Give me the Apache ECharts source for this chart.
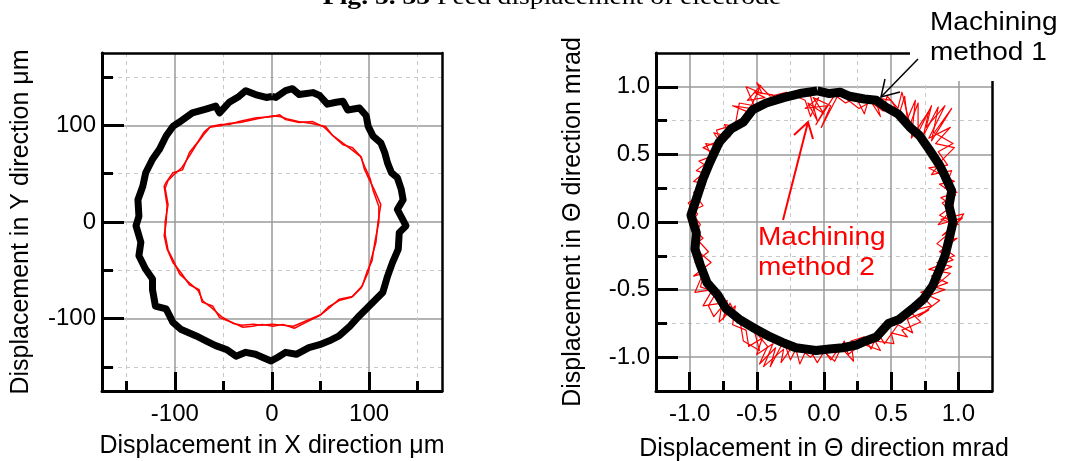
<!DOCTYPE html>
<html><head><meta charset="utf-8">
<script src="https://cdn.jsdelivr.net/npm/echarts@6/dist/echarts.min.js"></script>
<style>html,body{margin:0;padding:0;background:#fff}#c{width:1068px;height:461px}</style>
</head><body><div id="c"></div>
<script>
// ---- tick values ----
const xyMajorTicks = [-100, 0, 100];
const xyMinorTicks = [-150, -50, 50, 150];
const thMajorTicks = [-1.0, -0.5, 0.0, 0.5, 1.0];
const thMinorTicks = [-0.75, -0.25, 0.25, 0.75];

// ---- left panel: X / Y displacement (μm) ----
const xyMethod1 = [[0,130],[4,129],[14,136],[21,138],[28,132],[42,134],[49,131],[57,122],[66,124],[73,125],[78,116],[90,118],[97,110],[99,99],[104,89],[112,82],[116,72],[119,61],[123,51],[129,46],[133,34],[135,23],[129,13],[138,-4],[131,-11],[130,-28],[124,-42],[119,-56],[114,-73],[107,-80],[97,-90],[90,-97],[80,-108],[69,-118],[59,-123],[49,-127],[38,-130],[25,-137],[14,-135],[6,-140],[-1,-144],[-10,-140],[-17,-137],[-27,-135],[-37,-139],[-47,-132],[-58,-128],[-68,-123],[-78,-118],[-94,-111],[-102,-104],[-109,-90],[-120,-87],[-123,-70],[-123,-59],[-130,-49],[-137,-35],[-135,-21],[-140,-4],[-137,6],[-138,23],[-133,37],[-130,51],[-123,65],[-116,75],[-109,89],[-102,99],[-96,103],[-82,113],[-68,117],[-58,120],[-54,113],[-44,124],[-34,130],[-27,136],[-17,132],[-6,129],[0,130]];
const xyMethod2a = [[0,109],[8,111],[14,106],[28,103],[42,104],[54,98],[63,89],[73,80],[83,77],[92,67],[95,55],[100,44],[105,34],[112,18],[109,-1],[107,-21],[102,-39],[99,-52],[92,-68],[83,-77],[69,-80],[59,-89],[49,-97],[35,-104],[23,-110],[11,-106],[1,-108],[-10,-106],[-20,-108],[-30,-109],[-41,-104],[-54,-99],[-61,-87],[-72,-83],[-75,-70],[-85,-65],[-94,-52],[-102,-42],[-108,-28],[-111,-14],[-109,-1],[-108,17],[-111,37],[-109,41],[-102,51],[-92,54],[-85,72],[-77,82],[-70,93],[-63,99],[-53,101],[-44,101],[-34,104],[-16,108],[0,109]];
const xyMethod2b = [[1,110],[9,109],[15,107],[27,104],[41,102],[55,99],[62,90],[74,81],[82,75],[91,68],[96,56],[101,45],[104,33],[110,16],[110,0],[106,-20],[103,-40],[98,-51],[93,-66],[82,-78],[70,-81],[58,-88],[50,-96],[36,-102],[22,-108],[12,-107],[0,-106],[-11,-107],[-19,-106],[-31,-107],[-40,-105],[-52,-98],[-62,-89],[-71,-82],[-76,-71],[-84,-64],[-95,-54],[-101,-41],[-107,-29],[-110,-13],[-110,0],[-107,18],[-110,35],[-107,43],[-100,50],[-93,56],[-84,70],[-78,80],[-69,92],[-64,98],[-52,100],[-45,102],[-33,103],[-15,107],[1,110]];

// ---- right panel: Θ displacement (mrad) ----
const thMethod1 = [[-0.05,0.97],[0.04,0.95],[0.12,0.96],[0.19,0.93],[0.30,0.91],[0.39,0.90],[0.46,0.85],[0.55,0.80],[0.64,0.70],[0.71,0.64],[0.78,0.54],[0.86,0.42],[0.90,0.34],[0.95,0.23],[0.93,0.12],[0.96,0.00],[0.93,-0.13],[0.90,-0.25],[0.86,-0.35],[0.81,-0.47],[0.74,-0.57],[0.66,-0.64],[0.56,-0.72],[0.48,-0.75],[0.39,-0.85],[0.31,-0.88],[0.24,-0.91],[0.14,-0.93],[0.04,-0.94],[-0.06,-0.95],[-0.13,-0.94],[-0.21,-0.93],[-0.31,-0.89],[-0.40,-0.85],[-0.53,-0.78],[-0.63,-0.72],[-0.73,-0.64],[-0.79,-0.54],[-0.87,-0.45],[-0.92,-0.32],[-0.96,-0.20],[-0.95,-0.08],[-0.99,0.05],[-0.95,0.17],[-0.90,0.32],[-0.85,0.44],[-0.78,0.59],[-0.69,0.69],[-0.60,0.74],[-0.53,0.83],[-0.43,0.88],[-0.30,0.92],[-0.18,0.95],[-0.05,0.97]];
const thMethod2a = [[-0.88,0.28],[-0.97,0.30],[-0.85,0.40],[-0.93,0.45],[-0.80,0.50],[-0.90,0.55],[-0.78,0.60],[-0.82,0.66],[-0.70,0.63],[-0.74,0.72],[-0.62,0.70],[-0.58,0.82],[-0.68,0.86],[-0.55,0.84],[-0.47,1.01],[-0.57,0.90],[-0.44,0.92],[-0.52,0.96],[-0.38,0.94],[-0.30,0.90],[-0.20,0.95],[-0.10,0.93],[-0.05,0.75],[-0.12,0.88],[0.00,0.80],[-0.08,0.92],[0.05,0.86],[-0.02,0.70],[0.10,0.93],[0.12,0.98],[0.18,0.90],[0.26,0.84],[0.35,0.89],[0.42,0.78],[0.38,0.92],[0.50,0.90],[0.56,0.80],[0.60,0.93],[0.62,0.76],[0.68,0.90],[0.65,0.62],[0.78,0.82],[0.74,0.64],[0.85,0.85],[0.80,0.60],[0.95,0.84],[0.82,0.66],[0.96,0.58],[0.85,0.52],[0.92,0.42],[0.78,0.40],[0.97,0.30],[0.86,0.28],[0.98,0.20],[0.88,0.14],[0.94,0.08],[0.85,-0.02],[1.03,0.03],[0.88,-0.10],[0.97,-0.05],[0.84,-0.16],[0.97,-0.25],[0.84,-0.30],[0.95,-0.33],[0.80,-0.40],[0.92,-0.45],[0.72,-0.52],[0.86,-0.58],[0.70,-0.70],[0.78,-0.65],[0.62,-0.72],[0.66,-0.82],[0.55,-0.76],[0.45,-0.90],[0.40,-0.82],[0.35,-0.94],[0.30,-0.85],[0.20,-0.88],[0.22,-1.03],[0.12,-0.92],[0.05,-1.02],[-0.02,-0.92],[-0.10,-1.00],[-0.20,-0.92],[-0.25,-1.02],[-0.30,-0.88],[-0.40,-1.07],[-0.36,-0.93],[-0.48,-1.05],[-0.42,-0.92],[-0.52,-0.80],[-0.48,-0.95],[-0.60,-0.88],[-0.62,-0.76],[-0.70,-0.60],[-0.75,-0.72],[-0.72,-0.58],[-0.82,-0.70],[-0.86,-0.62],[-0.80,-0.52],[-0.92,-0.48],[-0.88,-0.35],[-0.96,-0.30],[-0.86,-0.22],[-0.97,-0.10],[-0.92,-0.02],[-0.99,0.08],[-0.90,0.12],[-0.97,0.22],[-0.88,0.28]];
const thMethod2b = [[-0.93,0.20],[-0.86,0.35],[-0.95,0.38],[-0.83,0.47],[-0.88,0.58],[-0.76,0.56],[-0.80,0.68],[-0.66,0.72],[-0.63,0.88],[-0.52,0.86],[-0.58,1.00],[-0.46,0.95],[-0.50,1.03],[-0.40,0.93],[-0.28,0.96],[-0.14,0.90],[-0.10,0.78],[-0.04,0.92],[-0.14,0.84],[0.02,0.86],[-0.06,0.72],[0.08,0.94],[0.16,0.88],[0.24,0.92],[0.30,0.80],[0.33,0.90],[0.44,0.82],[0.47,0.93],[0.55,0.84],[0.58,0.96],[0.64,0.72],[0.70,0.88],[0.70,0.66],[0.80,0.86],[0.76,0.70],[0.90,0.86],[0.78,0.62],[0.94,0.70],[0.83,0.58],[0.97,0.55],[0.88,0.46],[0.80,0.35],[0.95,0.38],[0.90,0.25],[0.99,0.22],[0.87,0.18],[0.96,0.12],[0.86,0.05],[1.00,-0.02],[0.87,0.02],[1.04,0.06],[0.90,-0.14],[0.99,-0.12],[0.86,-0.22],[0.96,-0.28],[0.78,-0.35],[0.94,-0.38],[0.82,-0.48],[0.90,-0.50],[0.74,-0.56],[0.80,-0.62],[0.64,-0.66],[0.72,-0.74],[0.58,-0.80],[0.62,-0.85],[0.50,-0.82],[0.52,-0.90],[0.38,-0.88],[0.42,-0.95],[0.28,-0.90],[0.18,-0.98],[0.15,-0.88],[0.08,-1.03],[0.00,-0.96],[-0.05,-1.04],[-0.12,-0.92],[-0.18,-1.05],[-0.22,-0.90],[-0.32,-1.04],[-0.30,-0.94],[-0.45,-1.07],[-0.38,-0.90],[-0.50,-0.98],[-0.46,-0.86],[-0.56,-0.92],[-0.58,-0.80],[-0.68,-0.76],[-0.66,-0.62],[-0.78,-0.74],[-0.76,-0.60],[-0.90,-0.62],[-0.83,-0.50],[-0.96,-0.52],[-0.90,-0.38],[-0.97,-0.40],[-0.84,-0.30],[-0.98,-0.18],[-0.90,-0.12],[-1.00,-0.02],[-0.94,0.06],[-1.01,0.14],[-0.93,0.20]];

const FONT = '"Liberation Sans", Arial, sans-serif';

function axes(dim, gridIndex, min, max, major, minor, name, nameGap, fmt, mainPos, framePos, majorLen, minorLen) {
  const base = {type:'value', gridIndex, min, max};
  return [
    Object.assign({}, base, {
      position: mainPos,
      axisLine:{show:true, onZero:false, lineStyle:{color:'#000', width:3}},
      axisTick:{show:true, inside:true, length:majorLen, customValues:major, lineStyle:{color:'#000', width:3}},
      axisLabel:{show:true, customValues:major, margin: dim==='x'?11:6, fontSize:24, color:'#000', fontFamily:FONT, formatter:fmt},
      splitLine:{show:true, lineStyle:{color:'#9a9a9a', width:1.5}},
      name, nameLocation:'middle', nameGap,
      nameTextStyle:{fontSize:25, color:'#000', fontFamily:FONT}
    }),
    Object.assign({}, base, {
      position: mainPos,
      axisLine:{show:false, onZero:false},
      axisTick:{show:true, inside:true, length:minorLen, customValues:minor, lineStyle:{color:'#000', width:3}},
      axisLabel:{show:false},
      splitLine:{show:true, lineStyle:{color:'#c8c8c8', width:1, type:[4,4]}}
    }),
    Object.assign({}, base, {
      position: framePos,
      axisLine:{show:true, onZero:false, lineStyle:{color:'#000', width:2.5}},
      axisTick:{show:false}, axisLabel:{show:false}, splitLine:{show:false}
    })
  ];
}

const fmtInt = v => String(Math.round(v));
const fmt1 = v => Number(v).toFixed(1);

const xAxis = [].concat(
  axes('x', 0, -175, 175, xyMajorTicks, xyMinorTicks, 'Displacement in X direction \u03bcm', 43, fmtInt, 'bottom', 'top', 19, 10),
  axes('x', 1, -1.25, 1.25, thMajorTicks, thMinorTicks, 'Displacement in \u0398 direction mrad', 46, fmt1, 'bottom', 'top', 19, 10)
);
const yAxis = [].concat(
  axes('y', 0, -175, 175, xyMajorTicks, xyMinorTicks, 'Displacement in Y direction \u03bcm', 68, fmtInt, 'left', 'right', 22, 11),
  axes('y', 1, -1.25, 1.25, thMajorTicks, thMinorTicks, 'Displacement in \u0398 direction mrad', 70, fmt1, 'left', 'right', 22, 11)
);

function line(data, xi, color, width, z) {
  return {type:'line', data, xAxisIndex:xi, yAxisIndex:xi, showSymbol:false, symbol:'none',
    lineStyle:{color, width, join:'round'}, z, silent:true};
}

const chart = echarts.init(document.getElementById('c'), null, {renderer:'canvas'});
chart.setOption({
  animation:false,
  backgroundColor:'#fff',
  grid:[
    {left:102, top:53, width:340, height:338, outerBoundsMode:'none', containLabel:false},
    {left:656, top:53, width:336, height:338, outerBoundsMode:'none', containLabel:false}
  ],
  xAxis, yAxis,
  series:[
    line(xyMethod1, 0, '#000', 7, 3),
    line(xyMethod2a, 0, '#ff0000', 1.5, 4),
    line(xyMethod2b, 0, '#ff0000', 1.5, 4),
    line(thMethod2a, 3, '#ff0000', 1.2, 3),
    line(thMethod2b, 3, '#ff0000', 1.2, 3),
    line(thMethod1, 3, '#000', 9, 4)
  ],
  graphic:[
    {type:'text', x:552, y:10, scaleX:1.15, z:100,
      style:{text:'{b|Fig. 5. 35} Feed displacement of electrode', font:'24px "Liberation Serif", serif',
        rich:{b:{fontWeight:'bold', fontSize:24, fontFamily:'"Liberation Serif", serif'}},
        fill:'#000', align:'center', verticalAlign:'bottom'}},
    {type:'rect', z:100, shape:{x:910, y:30, width:100, height:51}, style:{fill:'#fff'}},
    {type:'text', x:930, y:8, scaleX:1.12, z:101,
      style:{text:'Machining\nmethod 1', font:'25px "Liberation Sans", Arial, sans-serif', lineHeight:30, fill:'#000', align:'left', verticalAlign:'top'}},
    {type:'polyline', z:102, shape:{points:[[918,59],[881,97]]}, style:{stroke:'#000', lineWidth:1.5, fill:null}},
    {type:'polyline', z:102, shape:{points:[[885,79],[881,97],[900,92]]}, style:{stroke:'#000', lineWidth:1.5, fill:null}},
    {type:'text', x:758, y:223, scaleX:1.12, z:101,
      style:{text:'Machining\nmethod 2', font:'25px "Liberation Sans", Arial, sans-serif', lineHeight:30, fill:'#ff0000', align:'left', verticalAlign:'top'}},
    {type:'polyline', z:102, shape:{points:[[783,220],[808,122]]}, style:{stroke:'#ff0000', lineWidth:2, fill:null}},
    {type:'polyline', z:102, shape:{points:[[794,135],[808,122],[813,139]]}, style:{stroke:'#ff0000', lineWidth:2, fill:null}}
  ]
});
</script></body></html>
